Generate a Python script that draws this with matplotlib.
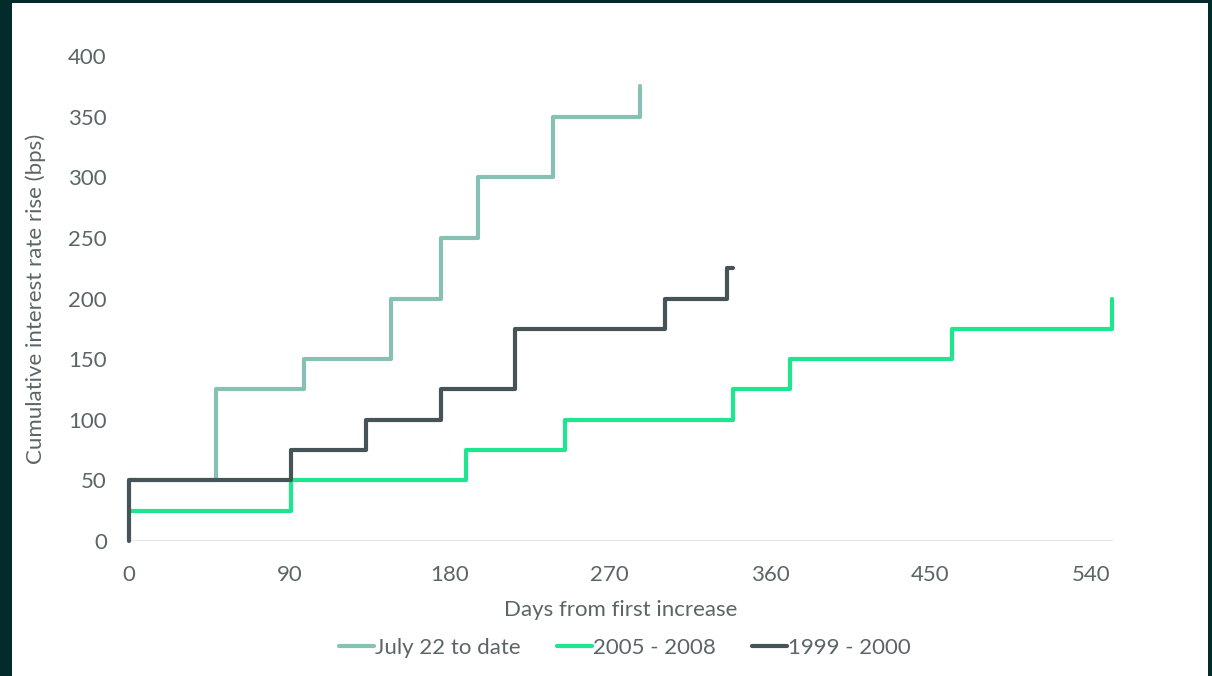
import matplotlib
matplotlib.use("Agg")
import matplotlib.pyplot as plt
from matplotlib.patches import Rectangle

plt.rcParams['font.family'] = ['Lato', 'DejaVu Sans']

# step data: day of change, cumulative level after it
july22_days = [0, 49, 98, 147, 175, 196, 238, 287]
july22_bps = [50, 125, 150, 200, 250, 300, 350, 375]

mid00s_days = [0, 91, 189, 245, 339, 371, 462, 552]
mid00s_bps = [25, 50, 75, 100, 125, 150, 175, 200]

late90s_days = [0, 0, 91, 133, 175, 217, 301, 336, 339]
late90s_bps = [0, 50, 75, 100, 125, 175, 200, 225, 225]

x_ticks = [0, 90, 180, 270, 360, 450, 540]
y_ticks = [0, 50, 100, 150, 200, 250, 300, 350, 400]

text_col = '#5b6568'
fs = 16

W, H = 1212, 676
fig = plt.figure(figsize=(W / 100, H / 100), dpi=100)
fig.patch.set_facecolor('#032b2c')
# white panel inside the dark frame
fig.patches.append(Rectangle((12 / W, 0), (1208 - 12) / W, 1 - 3 / H,
                             transform=fig.transFigure, facecolor='white',
                             edgecolor='none', zorder=-5))

ax = fig.add_axes([129 / W, 1 - 541 / H, (1113 - 129) / W, (541 - 56) / H])
ax.set_facecolor('none')

lw = 3.0
ax.step(july22_days, july22_bps, where='post', color='#86c1b3', lw=lw,
        label='July 22 to date', clip_on=False, solid_joinstyle='round',
        solid_capstyle='round', zorder=3)
ax.step(mid00s_days, mid00s_bps, where='post', color='#1ee68e', lw=lw,
        label='2005 - 2008', clip_on=False, solid_joinstyle='round',
        solid_capstyle='round', zorder=4)
ax.step(late90s_days, late90s_bps, where='post', color='#465458', lw=lw,
        label='1999 - 2000', clip_on=False, solid_joinstyle='round',
        solid_capstyle='round', zorder=5)

ax.axhline(0, color='#e3e6e6', lw=1.5, zorder=1)

ax.set_xlim(0, 552.5)
ax.set_ylim(0, 400)
ax.set_xticks(x_ticks)
ax.set_yticks(y_ticks)
for s in ax.spines.values():
    s.set_visible(False)
ax.tick_params(length=0, labelsize=fs, labelcolor=text_col)
ax.tick_params(axis='y', pad=16)
ax.tick_params(axis='x', pad=17)

ax.set_xlabel('Days from first increase', fontsize=fs, color=text_col,
              labelpad=11)
ax.set_ylabel('Cumulative interest rate rise (bps)', fontsize=fs,
              color=text_col, labelpad=16)

leg = fig.legend(loc='center', bbox_to_anchor=(625 / W, 1 - 648 / H),
                 ncol=3, frameon=False, fontsize=fs, handlelength=1.6,
                 handletextpad=0.05, columnspacing=1.6, labelcolor=text_col)

fig.savefig('out.png', dpi=100, facecolor=fig.get_facecolor())
